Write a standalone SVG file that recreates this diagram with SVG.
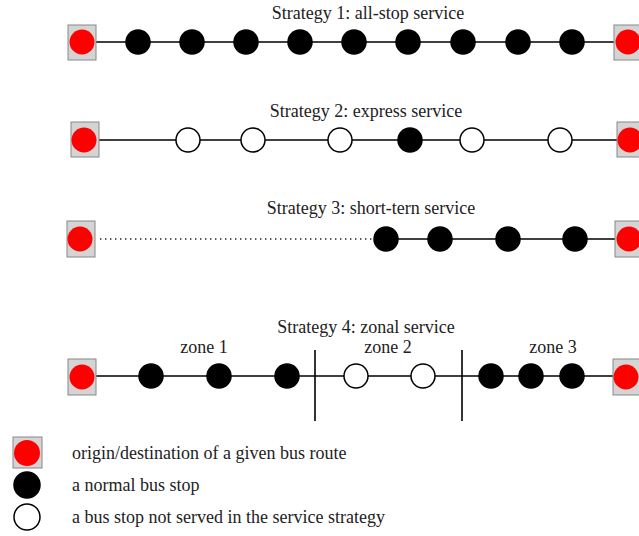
<svg xmlns="http://www.w3.org/2000/svg" width="639" height="536" viewBox="0 0 639 536">
<style>
.t{font-family:"Liberation Serif","Times New Roman",serif;font-size:18px;fill:#222}
.term rect{fill:#d4d4d4;stroke:#888;stroke-width:1}
.term circle{fill:#f00;stroke:none}
.stop{fill:#000;stroke:#000;stroke-width:1.5}
.open{fill:#fff;stroke:#000;stroke-width:1.5}
.ln{stroke:#000;stroke-width:1.6;fill:none}
.dot{stroke:#222;stroke-width:1.6;stroke-dasharray:1.4 3.6;fill:none}
</style>
<rect width="639" height="536" fill="#fff"/>
<g id="connectors">
<line class="ln" x1="96" y1="42" x2="614" y2="42"/>
<line class="ln" x1="99" y1="140" x2="617" y2="140"/>
<line class="dot" x1="100" y1="239" x2="372" y2="239"/>
<line class="ln" x1="386" y1="239" x2="615" y2="239"/>
<line class="ln" x1="96" y1="376" x2="613" y2="376"/>
<line class="ln" x1="315" y1="350" x2="315" y2="421"/>
<line class="ln" x1="462" y1="350" x2="462" y2="421"/>
</g>
<text class="t" x="368" y="19" text-anchor="middle">Strategy 1: all-stop service</text>
<text class="t" x="366" y="117" text-anchor="middle">Strategy 2: express service</text>
<text class="t" x="371" y="214" text-anchor="middle">Strategy 3: short-tern service</text>
<text class="t" x="366" y="333" text-anchor="middle">Strategy 4: zonal service</text>
<text class="t" x="204" y="353" text-anchor="middle">zone 1</text>
<text class="t" x="388" y="353" text-anchor="middle">zone 2</text>
<text class="t" x="553" y="353" text-anchor="middle">zone 3</text>
<g id="s1-origin" class="term"><rect x="68" y="25" width="28" height="35"/><circle cx="82" cy="42" r="12.5"/></g>
<g id="s1-stops">
<circle class="stop" cx="138" cy="42" r="12"/><circle class="stop" cx="192" cy="42" r="12"/><circle class="stop" cx="246" cy="42" r="12"/>
<circle class="stop" cx="300" cy="42" r="12"/><circle class="stop" cx="354" cy="42" r="12"/><circle class="stop" cx="408" cy="42" r="12"/>
<circle class="stop" cx="463" cy="42" r="12"/><circle class="stop" cx="518" cy="42" r="12"/><circle class="stop" cx="572" cy="42" r="12"/>
</g>
<g id="s1-dest" class="term"><rect x="614" y="25" width="28" height="35"/><circle cx="628" cy="42" r="12.5"/></g>
<g id="s2-origin" class="term"><rect x="71" y="122" width="28" height="35"/><circle cx="84" cy="140" r="12.5"/></g>
<g id="s2-stops">
<circle class="open" cx="188" cy="140" r="12"/><circle class="open" cx="253" cy="140" r="12"/><circle class="open" cx="340" cy="140" r="12"/>
<circle class="stop" cx="410" cy="140" r="12"/><circle class="open" cx="472" cy="140" r="12"/><circle class="open" cx="560" cy="140" r="12"/>
</g>
<g id="s2-dest" class="term"><rect x="617" y="122" width="28" height="35"/><circle cx="630" cy="140" r="12.5"/></g>
<g id="s3-origin" class="term"><rect x="67" y="221" width="28" height="36"/><circle cx="80" cy="239" r="12.5"/></g>
<g id="s3-stops">
<circle class="stop" cx="386" cy="239" r="12"/><circle class="stop" cx="440" cy="239" r="12"/><circle class="stop" cx="508" cy="239" r="12"/><circle class="stop" cx="575" cy="239" r="12"/>
</g>
<g id="s3-dest" class="term"><rect x="615" y="221" width="28" height="36"/><circle cx="629" cy="239" r="12.5"/></g>
<g id="s4-origin" class="term"><rect x="68" y="359" width="28" height="36"/><circle cx="82" cy="377" r="12.5"/></g>
<g id="s4-stops">
<circle class="stop" cx="151" cy="376" r="12"/><circle class="stop" cx="219" cy="376" r="12"/><circle class="stop" cx="287" cy="376" r="12"/>
<circle class="open" cx="356" cy="376" r="12"/><circle class="open" cx="423" cy="376" r="12"/>
<circle class="stop" cx="491" cy="376" r="12"/><circle class="stop" cx="531" cy="376" r="12"/><circle class="stop" cx="572" cy="376" r="12"/>
</g>
<g id="s4-dest" class="term"><rect x="613" y="359" width="28" height="36"/><circle cx="626" cy="377" r="12.5"/></g>
<g id="legend">
<g id="legend-terminal" class="term"><rect x="13" y="437" width="29" height="31"/><circle cx="27" cy="453" r="13"/></g>
<circle id="legend-stop" class="stop" cx="27" cy="485" r="13"/>
<circle id="legend-open" class="open" cx="27" cy="517" r="13"/>
<text class="t" x="72" y="459">origin/destination of a given bus route</text>
<text class="t" x="72" y="491">a normal bus stop</text>
<text class="t" x="72" y="523">a bus stop not served in the service strategy</text>
</g>
</svg>
